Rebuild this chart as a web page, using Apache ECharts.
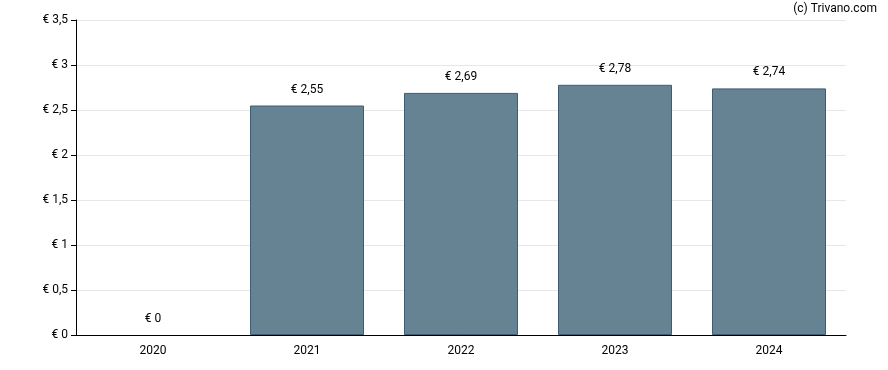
<!DOCTYPE html>
<html><head><meta charset="utf-8">
<script src="https://cdn.jsdelivr.net/npm/echarts@6/dist/echarts.min.js"></script>
<style>html,body{margin:0;padding:0;background:#fff}#c{width:888px;height:370px}</style>
</head><body><div id="c"></div>
<script>
var categories = ['2020','2021','2022','2023','2024'];
var values = [0, 2.55, 2.69, 2.78, 2.74];
var yTicks = [0, 0.5, 1, 1.5, 2, 2.5, 3, 3.5];
function fmt(v){ return '€ ' + String(v).replace('.', ','); }
var chart = echarts.init(document.getElementById('c'));
chart.setOption({
  animation: false,
  textStyle: {fontFamily: 'Roboto'},
  graphic: [{type:'text', right: 11, top: 3, style:{text:'(c) Trivano.com', font:'12px Roboto', fill:'#000'}}],
  grid: {left: 76, right: 42, top: 20, bottom: 35, containLabel: false},
  xAxis: {
    type: 'category', data: categories,
    axisLine: {lineStyle: {color: '#000', width: 1}},
    axisTick: {alignWithLabel: true, length: 5, lineStyle: {color: '#000'}},
    axisLabel: {color: '#000', fontSize: 12, margin: 10}
  },
  yAxis: {
    type: 'value', min: 0, max: 3.5, interval: 0.5,
    axisLine: {show: true, lineStyle: {color: '#000', width: 1}},
    axisTick: {show: true, length: 5, lineStyle: {color: '#000'}},
    axisLabel: {color: '#000', fontSize: 12, margin: 8, formatter: function(v){ return fmt(v); }},
    splitLine: {lineStyle: {color: '#e6e6e6'}}
  },
  series: [{
    type: 'bar', barWidth: 114,
    data: values.map(function(v){ return v === 0 ? {value: v, itemStyle: {borderWidth: 0}} : v; }),
    itemStyle: {color: '#668394', borderColor: '#3f5d72', borderWidth: 1},
    label: {show: true, position: 'top', distance: 10, color: '#000', fontSize: 12, formatter: function(p){ return fmt(p.value); }}
  }]
});
</script></body></html>
